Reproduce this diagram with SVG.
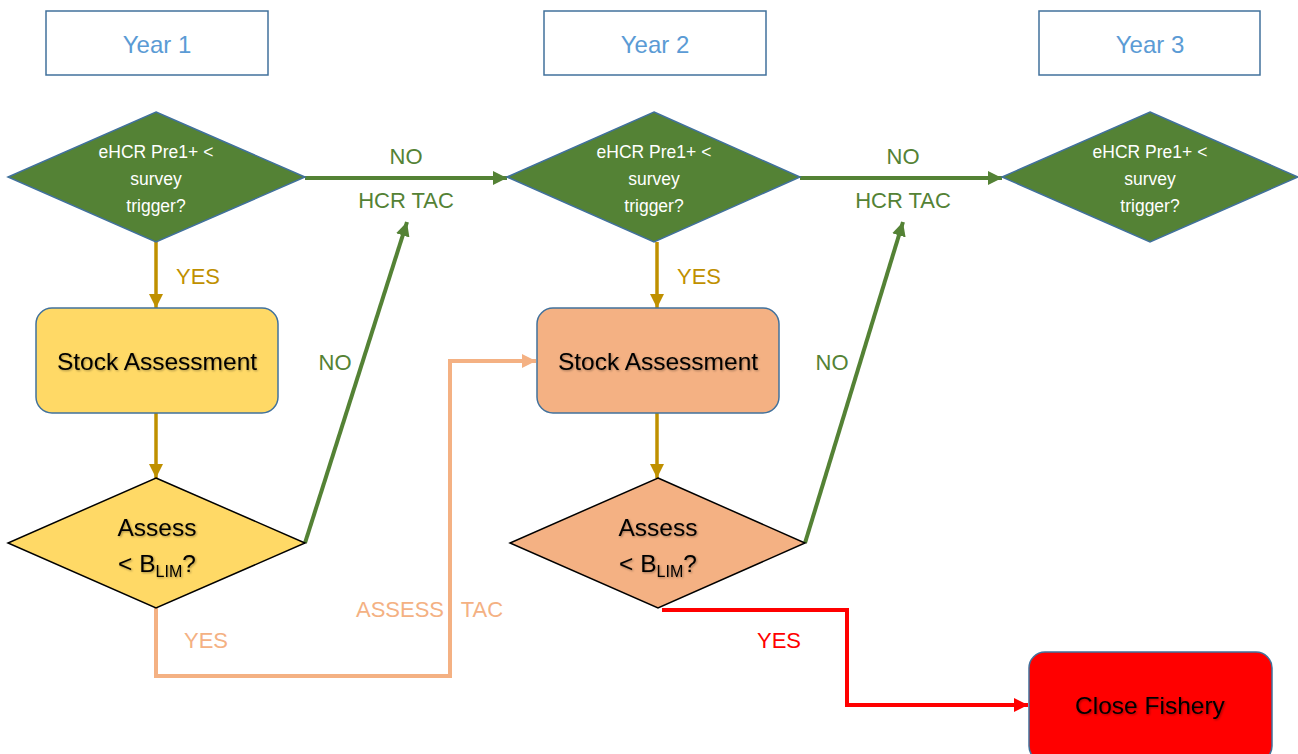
<svg xmlns="http://www.w3.org/2000/svg" width="1298" height="754" viewBox="0 0 1298 754">
<style>
.year rect{fill:#fff;stroke:#41719C;stroke-width:1.5}
.year text{fill:#5B9BD5;font-family:"Liberation Sans",Arial,sans-serif;font-size:24px;text-anchor:middle}
.q polygon{fill:#548235;stroke:#41719C;stroke-width:1.5}
.q text{fill:#fff;font-family:"Liberation Sans",Arial,sans-serif;font-size:17.5px;text-anchor:middle}
.box rect{stroke:#41719C;stroke-width:1.5}
.blk{fill:#000;font-family:"Liberation Sans",Arial,sans-serif;font-size:24.5px;text-anchor:middle;filter:url(#sh)}
.ad polygon{stroke:#000;stroke-width:1.5}
.lbl{font-family:"Liberation Sans",Arial,sans-serif;font-size:22px;text-anchor:middle}
.g{fill:#548235}.y{fill:#BF9000}.s{fill:#F4B183}.r{fill:#FF0000}
.cg{stroke:#548235;stroke-width:4;fill:none}
.cy{stroke:#BF9000;stroke-width:3.5;fill:none}
.cs{stroke:#F4B183;stroke-width:4;fill:none}
.cr{stroke:#FF0000;stroke-width:4;fill:none}
</style>
<defs>
<filter id="sh" x="-10%" y="-20%" width="130%" height="150%">
<feDropShadow dx="1" dy="1" stdDeviation="0.8" flood-color="#000" flood-opacity="0.35"/>
</filter>
<marker id="ag" markerUnits="userSpaceOnUse" markerWidth="16" markerHeight="14" refX="14" refY="7" orient="auto"><path d="M0,0 L14,7 L0,14 Z" fill="#548235"/></marker>
<marker id="ay" markerUnits="userSpaceOnUse" markerWidth="16" markerHeight="14" refX="14" refY="7" orient="auto"><path d="M0,0 L14,7 L0,14 Z" fill="#BF9000"/></marker>
<marker id="as" markerUnits="userSpaceOnUse" markerWidth="16" markerHeight="14" refX="14" refY="7" orient="auto"><path d="M0,0 L14,7 L0,14 Z" fill="#F4B183"/></marker>
<marker id="ar" markerUnits="userSpaceOnUse" markerWidth="16" markerHeight="14" refX="14" refY="7" orient="auto"><path d="M0,0 L14,7 L0,14 Z" fill="#FF0000"/></marker>
</defs>

<g id="connectors">
<line class="cg" x1="305" y1="178" x2="507" y2="178" marker-end="url(#ag)"/>
<line class="cg" x1="800" y1="178" x2="1002" y2="178" marker-end="url(#ag)"/>
<line class="cy" x1="156" y1="242" x2="156" y2="308" marker-end="url(#ay)"/>
<line class="cy" x1="156" y1="413" x2="156" y2="478" marker-end="url(#ay)"/>
<line class="cy" x1="657" y1="242" x2="657" y2="308" marker-end="url(#ay)"/>
<line class="cy" x1="657" y1="413" x2="657" y2="478" marker-end="url(#ay)"/>
<line class="cg" x1="305" y1="543" x2="407" y2="222" marker-end="url(#ag)"/>
<line class="cg" x1="805" y1="543" x2="903" y2="222" marker-end="url(#ag)"/>
<polyline class="cs" points="156,608 156,676 450,676 450,361 536,361" marker-end="url(#as)"/>
<polyline class="cr" points="662,610 847,610 847,705 1028,705" marker-end="url(#ar)"/>
<text class="lbl g" x="406" y="164">NO</text>
<text class="lbl g" x="406" y="208">HCR TAC</text>
<text class="lbl g" x="903" y="164">NO</text>
<text class="lbl g" x="903" y="208">HCR TAC</text>
<text class="lbl y" x="198" y="284" font-size="21">YES</text>
<text class="lbl y" x="699" y="284" font-size="21">YES</text>
<text class="lbl g" x="335" y="370">NO</text>
<text class="lbl g" x="832" y="370">NO</text>
<text class="lbl s" x="206" y="648" font-size="21">YES</text>
<text class="lbl s" x="400" y="617" font-size="21">ASSESS</text>
<text class="lbl s" x="482" y="617">TAC</text>
<text class="lbl r" x="779" y="648" font-size="21">YES</text>
</g>

<g id="year1" class="year"><rect x="46" y="11" width="222" height="64"/><text x="157" y="53">Year 1</text></g>
<g id="year2" class="year"><rect x="544" y="11" width="222" height="64"/><text x="655" y="53">Year 2</text></g>
<g id="year3" class="year"><rect x="1039" y="11" width="221" height="64"/><text x="1150" y="53">Year 3</text></g>

<g id="q1" class="q"><polygon points="156,112 305,177 156,242 8,177"/>
<text x="156" y="158">eHCR Pre1+ &lt;</text><text x="156" y="185">survey</text><text x="156" y="212">trigger?</text></g>
<g id="q2" class="q"><polygon points="654,112 800,177 654,242 507,177"/>
<text x="654" y="158">eHCR Pre1+ &lt;</text><text x="654" y="185">survey</text><text x="654" y="212">trigger?</text></g>
<g id="q3" class="q"><polygon points="1150,112 1298,177 1150,242 1002,177"/>
<text x="1150" y="158">eHCR Pre1+ &lt;</text><text x="1150" y="185">survey</text><text x="1150" y="212">trigger?</text></g>

<g id="sa1" class="box"><rect x="36" y="308" width="242" height="105" rx="16" fill="#FFD966"/><text class="blk" x="157" y="370">Stock Assessment</text></g>
<g id="sa2" class="box"><rect x="537" y="308" width="242" height="105" rx="16" fill="#F4B183"/><text class="blk" x="658" y="370">Stock Assessment</text></g>

<g id="ad1" class="ad"><polygon points="156,478 305,543 156,608 8,543" fill="#FFD966"/>
<text class="blk" x="157" y="536">Assess</text>
<text class="blk" x="157" y="572">&lt; B<tspan font-size="16" dy="5">LIM</tspan><tspan dy="-5">?</tspan></text></g>
<g id="ad2" class="ad"><polygon points="658,478 805,543 658,608 510,543" fill="#F4B183"/>
<text class="blk" x="658" y="536">Assess</text>
<text class="blk" x="658" y="572">&lt; B<tspan font-size="16" dy="5">LIM</tspan><tspan dy="-5">?</tspan></text></g>

<g id="close" class="box"><rect x="1029" y="652" width="243" height="110" rx="16" fill="#FF0000"/><text class="blk" x="1150" y="714">Close Fishery</text></g>
</svg>
